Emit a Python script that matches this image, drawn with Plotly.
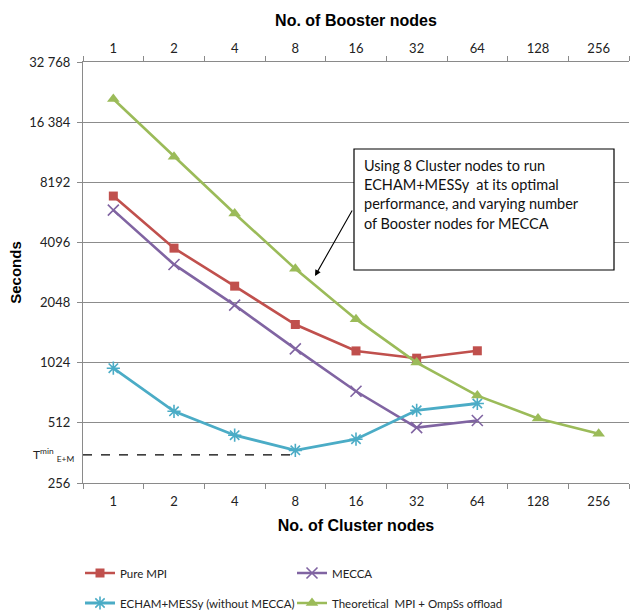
import math
import plotly.graph_objects as go

categories = ["1", "2", "4", "8", "16", "32", "64", "128", "256"]
pure_mpi = [6990, 3835, 2475, 1591, 1173, 1079, 1175]
mecca = [5943, 3178, 1988, 1201, 737, 485, 526]
echam = [961, 585, 444, 373, 424, 592, 640]
theoretical = [21380, 10999, 5721, 3021, 1692, 1026, 701, 538, 452]
t_min = 354
t_min_span = [-0.5, 3]  # from left edge to the "8" category
y_ticks = [256, 512, 1024, 2048, 4096, 8192, 16384, 32768]
y_ticktext = ["256", "512", "1024", "2048", "4096", "8192", "16 384", "32 768"]
box_lines = ["Using 8 Cluster nodes to run",
             "ECHAM+MESSy  at its optimal",
             "performance, and varying number",
             "of Booster nodes for MECCA"]

TICKFONT = dict(family="Lato, Open Sans, sans-serif", size=13, color="#222")
AXC = "#8a8a8a"
FIG_H = 610

fig = go.Figure()

fig.add_trace(go.Scatter(x=categories[:len(pure_mpi)], y=pure_mpi, name="Pure MPI",
                         mode="lines+markers", line=dict(color="#C0504D", width=2.6),
                         marker=dict(symbol="square", size=9, color="#C0504D"),
                         legend="legend"))
fig.add_trace(go.Scatter(x=categories[:len(mecca)], y=mecca, name="MECCA",
                         mode="lines+markers", line=dict(color="#8064A2", width=2.6),
                         marker=dict(symbol="x-thin", size=11, line=dict(color="#8064A2", width=1.6)),
                         legend="legend2"))
fig.add_trace(go.Scatter(x=categories[:len(echam)], y=echam, name="ECHAM+MESSy (without MECCA)",
                         mode="lines+markers", line=dict(color="#4BACC6", width=2.8),
                         marker=dict(symbol="asterisk-open", size=11, line=dict(color="#4BACC6", width=1.6)),
                         legend="legend3"))
fig.add_trace(go.Scatter(x=categories, y=theoretical, name="Theoretical  MPI + OmpSs offload",
                         mode="lines+markers", line=dict(color="#9BBB59", width=2.6),
                         marker=dict(symbol="triangle-up", size=11, color="#9BBB59"),
                         legend="legend4"))
# invisible trace to anchor the top axis
fig.add_trace(go.Scatter(x=categories, y=[None] * len(categories), xaxis="x2",
                         showlegend=False, hoverinfo="skip"))
# dashed T_min line on a hidden linear overlay axis
fig.add_trace(go.Scatter(x=t_min_span, y=[t_min, t_min], xaxis="x3", mode="lines",
                         line=dict(color="black", width=1.3, dash="dash"),
                         showlegend=False, hoverinfo="skip", cliponaxis=False))

axis_common = dict(type="category", categoryarray=categories, range=[-0.5, 8.5],
                   tickson="boundaries", ticks="outside", ticklen=5, tickcolor=AXC,
                   showline=True, linecolor=AXC, linewidth=1.3, showgrid=False,
                   tickfont=TICKFONT, zeroline=False, fixedrange=True, automargin=False)

TITLEFONT = dict(family="Liberation Sans, Arial", size=16, color="#000", weight="bold")
LEGFONT = dict(family="Lato, Open Sans, sans-serif", size=11.5, color="#222")


def leg(xpx, ypx):
    return dict(orientation="h", x=xpx / 630.0, xanchor="left", xref="container",
                y=1 - ypx / FIG_H, yanchor="middle", yref="container",
                itemwidth=30, font=LEGFONT, bgcolor="rgba(0,0,0,0)")


fig.update_layout(
    width=630, height=FIG_H,
    margin=dict(l=83, r=1, t=62, b=127, autoexpand=False),
    paper_bgcolor="white", plot_bgcolor="white",
    xaxis=dict(**axis_common, ticklabelstandoff=6,
               title=dict(text="No. of Cluster nodes", standoff=12, font=TITLEFONT)),
    xaxis2=dict(**axis_common, overlaying="x", side="top", anchor="y", ticklabelstandoff=3,
                title=dict(text="No. of Booster nodes", standoff=9, font=TITLEFONT)),
    xaxis3=dict(type="linear", range=[-0.5, 8.5], overlaying="x", anchor="y",
                visible=False, fixedrange=True),
    yaxis=dict(type="log", range=[math.log10(256), math.log10(32768)],
               tickvals=y_ticks, ticktext=y_ticktext, tickfont=TICKFONT,
               ticks="outside", ticklen=5, tickcolor=AXC, ticklabelstandoff=4,
               showline=True, linecolor=AXC, linewidth=1.3,
               showgrid=True, gridcolor="#8c8c8c", gridwidth=1,
               title=dict(text="Seconds", standoff=3,
                          font=dict(family="Liberation Sans, Arial", size=15, color="#000", weight="bold")),
               fixedrange=True, automargin=False),
    legend=leg(80, 573),
    legend2=leg(292, 573),
    legend3=leg(80, 603),
    legend4=leg(292, 603),
    showlegend=True,
)

# annotation box geometry helpers (pixel -> paper)
def px_x(px):
    return (px - 83) / 546.0

def px_y(py):
    return (483 - py) / 421.0

fig.add_annotation(xref="paper", yref="y", x=-0.012, y=math.log10(t_min), xanchor="right",
                   yanchor="middle", showarrow=False,
                   text="T<sup>min</sup> <sub>E+M</sub>",
                   font=dict(family="Lato, Open Sans, sans-serif", size=12, color="#222"))

fig.add_shape(type="rect", xref="paper", yref="paper",
              x0=px_x(354), x1=px_x(614), y0=px_y(270), y1=px_y(149),
              line=dict(color="black", width=1.2), fillcolor="white", layer="above")
for i, ln in enumerate(box_lines):
    fig.add_annotation(xref="paper", yref="paper", x=px_x(362), y=px_y(165 + i * 19.4),
                       xanchor="left", yanchor="middle", showarrow=False, text=ln,
                       font=dict(family="Lato, Open Sans, sans-serif", size=14.5, color="#111"))
fig.add_annotation(xref="paper", yref="paper", x=px_x(315), y=px_y(276), text="",
                   showarrow=True, axref="pixel", ayref="pixel", ax=38, ay=-67,
                   arrowhead=2, arrowsize=1.1, arrowwidth=1.1, arrowcolor="black")

fig.write_html("out.html")
